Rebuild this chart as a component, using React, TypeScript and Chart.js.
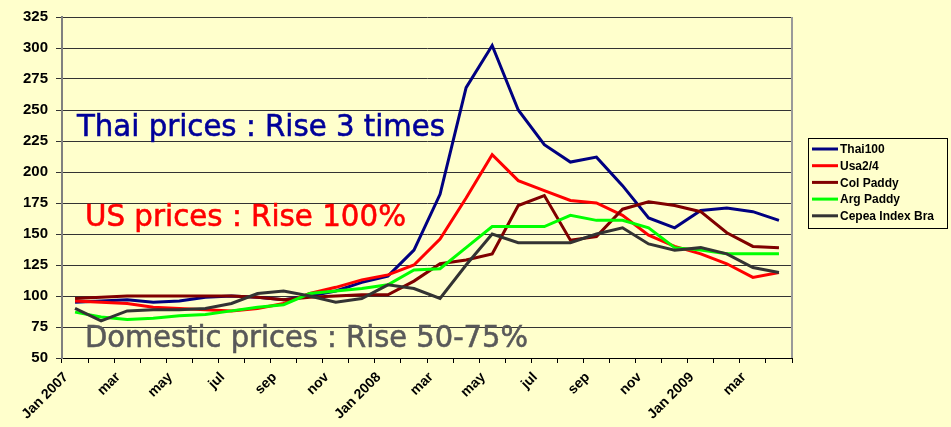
import React, { useEffect, useRef } from "react";
import { Chart, registerables } from "chart.js";
Chart.register(...registerables);

const categories = [
  "Jan 2007", "feb", "mar", "apr", "may", "jun", "jul", "aug", "sep", "oct", "nov", "dec",
  "Jan 2008", "feb", "mar", "apr", "may", "jun", "jul", "aug", "sep", "oct", "nov", "dec",
  "Jan 2009", "feb", "mar", "apr",
];
const thai100 = [95, 96, 97, 95, 96, 99, 100, 99, 97, 100, 104, 111, 116, 137, 182, 268, 302, 250, 222, 208, 212, 189, 163, 155, 169, 171, 168, 161];
const usa24 = [96, 95, 94, 91, 90, 89, 88, 90, 94, 102, 107, 113, 117, 125, 146, 179, 214, 193, 185, 177, 175, 165, 149, 140, 134, 126, 115, 119];
const colPaddy = [98, 99, 100, 100, 100, 100, 100, 99, 97, 99, 100, 101, 101, 112, 126, 129, 134, 173, 181, 145, 148, 170, 176, 173, 168, 151, 140, 139];
const argPaddy = [87, 83, 81, 82, 84, 85, 88, 91, 93, 102, 104, 106, 109, 121, 122, 139, 156, 156, 156, 165, 161, 161, 155, 139, 137, 134, 134, 134];
const cepea = [90, 80, 88, 89, 89, 90, 94, 102, 104, 100, 95, 98, 109, 106, 98, 125, 150, 143, 143, 143, 150, 155, 142, 137, 139, 134, 123, 119];

const seriesNames = ["Thai100", "Usa2/4", "Col Paddy", "Arg Paddy", "Cepea Index Bra"];
const seriesColors = ["#000080", "#FF0000", "#800000", "#00FF00", "#333333"];

const yMin = 50;
const yMax = 325;
const yStep = 25;

const notes = [
  { text: "Thai prices : Rise 3 times", color: "#000099" },
  { text: "US prices : Rise 100%", color: "#FF0000" },
  { text: "Domestic prices : Rise 50-75%", color: "#595959" },
];

export default function App() {
  const ref = useRef<HTMLCanvasElement | null>(null);

  useEffect(() => {
    document.body.style.margin = "0";
    const canvas = ref.current;
    if (!canvas) return;

    const notePlacement = [
      { x: 77, y: 136, w: 368, size: 31 },
      { x: 85, y: 226, w: 321, size: 31 },
      { x: 85, y: 347, w: 443, size: 31 },
    ];

    const deco = {
      id: "deco",
      beforeDraw(chart: any) {
        const ctx = chart.ctx;
        ctx.save();
        ctx.fillStyle = "#FFFFCC";
        ctx.fillRect(0, 0, chart.width, chart.height);
        ctx.restore();
      },
      beforeDatasetsDraw(chart: any) {
        const ctx = chart.ctx;
        const a = chart.chartArea;
        ctx.save();
        ctx.strokeStyle = "#9a9a9a";
        ctx.lineWidth = 2;
        ctx.beginPath();
        ctx.moveTo(a.right, a.top);
        ctx.lineTo(a.right, a.bottom);
        ctx.stroke();
        notes.forEach((n, i) => {
          const p = notePlacement[i];
          ctx.font = `${p.size}px "DejaVu Sans"`;
          ctx.fillStyle = n.color;
          ctx.strokeStyle = n.color;
          ctx.lineWidth = 0.6;
          ctx.textBaseline = "alphabetic";
          ctx.textAlign = "left";
          const m = ctx.measureText(n.text).width;
          ctx.save();
          ctx.translate(p.x, p.y);
          ctx.scale(p.w / m, 1);
          ctx.fillText(n.text, 0, 0);
          ctx.strokeText(n.text, 0, 0);
          ctx.restore();
        });
        ctx.restore();
      },
      afterDraw(chart: any) {
        const ctx = chart.ctx;
        ctx.save();
        const bx = 808, by = 138, bw = 139, bh = 90;
        ctx.strokeStyle = "#000";
        ctx.lineWidth = 1;
        ctx.strokeRect(bx + 0.5, by + 0.5, bw, bh);
        ctx.beginPath();
        ctx.rect(bx + 1, by + 1, bw - 1, bh - 1);
        ctx.clip();
        chart.data.datasets.forEach((ds: any, i: number) => {
          const cy = 149 + i * 16.7;
          ctx.strokeStyle = ds.borderColor;
          ctx.lineWidth = 3;
          ctx.beginPath();
          ctx.moveTo(812, cy);
          ctx.lineTo(838, cy);
          ctx.stroke();
          ctx.fillStyle = "#000";
          ctx.font = 'bold 12px "Liberation Sans"';
          ctx.textBaseline = "middle";
          ctx.textAlign = "left";
          ctx.fillText(ds.label, 840, cy + 1);
        });
        ctx.restore();
      },
    };

    const data = [thai100, usa24, colPaddy, argPaddy, cepea];

    const chart = new Chart(canvas, {
      type: "line",
      data: {
        labels: categories,
        datasets: data.map((d, i) => ({
          label: seriesNames[i],
          data: d,
          borderColor: seriesColors[i],
          backgroundColor: seriesColors[i],
          borderWidth: 3,
          pointRadius: 0,
          tension: 0,
          fill: false,
          order: data.length - i,
        })),
      },
      options: {
        animation: false,
        responsive: true,
        maintainAspectRatio: false,
        layout: { padding: { top: 15, right: 159, left: 0, bottom: 0 } },
        plugins: { legend: { display: false }, tooltip: { enabled: false } },
        scales: {
          x: {
            type: "category",
            offset: true,
            afterFit: (s: any) => { s.height = 69; },
            grid: { display: true, drawOnChartArea: false, drawTicks: true, tickLength: 5, color: "#000", offset: true },
            border: { color: "#000", width: 1 },
            ticks: {
              autoSkip: false,
              maxRotation: 45,
              minRotation: 45,
              padding: 6,
              labelOffset: -9,
              color: "#000",
              font: { family: "Liberation Sans", weight: "bold", size: 14 },
              callback: (_v: any, i: number) => (i % 2 === 0 ? categories[i] : ""),
            },
          },
          y: {
            min: yMin,
            max: yMax,
            afterFit: (s: any) => { s.width = 62; },
            grid: { color: "#333", lineWidth: 1, tickLength: 6, drawTicks: true },
            border: { color: "#808080", width: 2 },
            ticks: {
              stepSize: yStep,
              padding: 8,
              color: "#000",
              font: { family: "Liberation Sans", weight: "bold", size: 15 },
            },
          },
        },
      },
      plugins: [deco],
    });
    return () => chart.destroy();
  }, []);

  return (
    <div style={{ width: 951, height: 427, position: "relative" }}>
      <canvas ref={ref} />
    </div>
  );
}
